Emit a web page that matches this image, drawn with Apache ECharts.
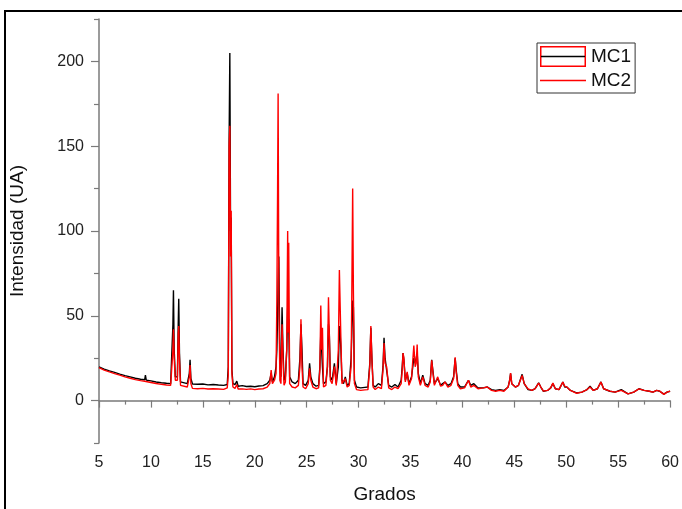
<!DOCTYPE html>
<html>
<head>
<meta charset="utf-8">
<script src="https://cdn.jsdelivr.net/npm/echarts@6/dist/echarts.min.js"></script>
<style>
  html, body { margin: 0; padding: 0; background: #fff; }
  #chart { width: 682px; height: 509px; }
</style>
</head>
<body>
<div id="chart"></div>
<script>
// Diffraction angle (2θ, degrees) shared by both patterns
const grados = [
  5.0, 5.5, 6.0, 6.5, 7.0, 7.5, 8.0, 8.5, 9.0, 9.4, 9.47, 9.55, 10.0, 10.5, 11.0, 11.5, 11.9,
  12.05, 12.12, 12.17, 12.24, 12.35, 12.45, 12.55, 12.63, 12.68, 12.75, 12.85,
  13.0, 13.5, 13.7, 13.77, 13.85, 14.0,
  14.5, 15.0, 15.5, 16.0, 16.5, 17.0, 17.35,
  17.45, 17.53, 17.6, 17.67, 17.73, 17.8, 17.9,
  18.1, 18.27, 18.4, 18.8, 19.2, 19.6, 20.0, 20.4, 20.8, 21.2,
  21.45, 21.58, 21.7, 21.9, 22.05,
  22.13, 22.2, 22.25, 22.32, 22.42,
  22.52, 22.63, 22.72, 22.82,
  22.95, 23.08, 23.17, 23.22, 23.27, 23.36,
  23.6, 23.9, 24.2,
  24.35, 24.45, 24.55, 24.65, 24.9,
  25.15, 25.28, 25.4, 25.6, 25.9, 26.15,
  26.27, 26.36, 26.44, 26.52, 26.62, 26.85,
  27.0, 27.1, 27.18, 27.28, 27.45, 27.67, 27.85,
  28.05, 28.15, 28.22, 28.3, 28.4, 28.55, 28.72, 28.9, 29.1, 29.28,
  29.35, 29.43, 29.5, 29.6,
  29.8, 30.2, 30.6, 30.9,
  31.08, 31.18, 31.28, 31.4, 31.6, 31.9, 32.2,
  32.35, 32.45, 32.55, 32.7, 32.9, 33.2, 33.5, 33.8, 34.1,
  34.2, 34.28, 34.36, 34.5, 34.68, 34.85,
  35.1, 35.32, 35.45, 35.55, 35.64, 35.75, 35.95,
  36.18, 36.4, 36.7,
  36.9, 37.04, 37.15, 37.3, 37.62, 37.9, 38.1, 38.32, 38.6, 38.9,
  39.15, 39.3, 39.4, 39.55,
  39.8, 40.2, 40.58, 40.8, 41.1, 41.5, 42.0, 42.4, 42.8, 43.2, 43.6, 44.0, 44.4,
  44.55, 44.64, 44.75,
  45.1, 45.4, 45.75, 45.95, 46.32, 46.7, 47.0, 47.34, 47.55, 47.8, 48.2, 48.5, 48.71, 48.95,
  49.3, 49.67, 49.85, 50.05, 50.4, 51.0, 51.5, 52.0, 52.29, 52.6, 53.0, 53.34, 53.6,
  54.2, 54.7, 55.3, 55.95, 56.5, 57.0, 57.5, 58.0, 58.35, 58.7, 59.0, 59.4, 59.7, 60.0
];

// Intensity (UA), sample MC1
const mc1 = [
  19.8, 18.6, 17.5, 16.6, 15.6, 14.7, 14.0, 13.2, 12.6, 12.3, 15.0, 12.1, 11.6, 11.0, 10.5, 10.2, 10.0,
  11, 45, 65, 30, 14, 13, 14, 45, 60, 28, 11,
  10, 10, 16, 24, 13, 9.8,
  9.6, 9.8, 9.3, 9.5, 9.2, 9.0, 9.5,
  20, 152, 205, 100, 108, 18, 10,
  9.5, 11.5, 8.5, 8.8, 8.3, 8.5, 8.2, 8.6, 8.8, 10,
  12, 16, 11, 14, 20,
  30, 50, 70, 85, 20,
  14, 55, 30, 12,
  14, 30, 55, 40, 48, 14,
  11, 10, 12,
  25, 45, 30, 10, 9,
  12, 22, 14, 10, 8.5, 9,
  20, 40, 30, 20, 10, 11,
  20, 45, 40, 14, 12, 22, 10,
  20, 44, 40, 30, 12, 10, 14, 9, 10, 25,
  40, 59, 55, 12,
  8, 7.5, 7.8, 8,
  22, 43, 25, 9, 8, 10, 9,
  20, 37, 25, 18, 9, 8, 9.5, 8, 12,
  20, 28, 24, 12, 16, 10,
  14, 25, 22, 25, 28, 16, 10,
  15, 10, 9,
  12, 24, 18, 10, 13, 9, 10, 11, 9, 10,
  14, 25, 18, 10,
  8, 8, 12, 9, 10, 7.5, 7.5, 8, 6.5, 6, 6.5, 6, 8,
  12, 16, 10,
  8, 9, 15.5, 10, 6.5, 6, 7, 10.5, 8, 5.5, 6, 7.5, 10, 7,
  6.5, 11, 8, 8, 6, 4.5, 5, 6.5, 8.5, 6, 7, 11, 7,
  5.5, 5, 6.5, 4, 5, 7, 6, 5.5, 5, 6, 5.5, 3.8, 5, 5.5
];

// Intensity (UA), sample MC2
const mc2 = [
  19.5, 18.0, 16.9, 15.9, 15.0, 14.0, 13.2, 12.4, 11.8, 11.4, 11.6, 11.2, 10.7, 10.1, 9.6, 9.2, 9.0,
  10, 30, 42, 25, 12, 11, 12, 40, 44, 24, 9,
  8, 8, 14, 21, 10, 7.2,
  7.0, 7.2, 6.8, 7.0, 6.8, 6.6, 7.5,
  15, 150, 162, 85, 112, 16, 8,
  7.2, 9.5, 6.8, 6.9, 6.6, 6.9, 6.5, 6.8, 7.0, 8,
  10, 18, 10, 12, 16,
  60, 125, 181, 60, 12,
  10, 45, 25, 9,
  11, 30, 100, 40, 93, 10,
  8, 7.5, 9,
  20, 48, 20, 8, 7,
  10, 19, 12, 8, 7, 7.5,
  18, 56, 30, 43, 8, 9,
  20, 61, 62, 12, 10, 20, 9,
  30, 77, 78, 35, 10, 9, 13, 8, 9, 20,
  64, 125, 64, 10,
  6.5, 6, 6.3, 6.5,
  20, 44, 25, 8, 6.5, 8, 7,
  18, 34, 22, 20, 7.5, 6.5, 8, 7, 10,
  18, 28, 25, 11, 17, 9,
  13, 32.5, 20, 22, 33, 14, 9,
  14, 9, 8,
  11, 23.7, 17, 9, 14, 8.5, 9, 11, 8, 9,
  13, 25.5, 17, 9,
  7, 7.5, 12, 8, 9, 7, 7.5, 8, 6, 5.5, 6, 5.5, 8,
  12, 16.2, 10,
  8, 9, 14.8, 10, 6.9, 6, 7, 10.3, 8, 5.6, 6, 7.5, 10.3, 7,
  6.5, 10.9, 8.5, 8, 6, 4.3, 5, 6.5, 8, 6, 7, 10.9, 7,
  5.6, 5, 6, 4, 5, 6.9, 6, 5.5, 5, 6, 5.6, 3.7, 5, 5.6
];

// Axis ticks
const xTicks = [5, 10, 15, 20, 25, 30, 35, 40, 45, 50, 55, 60];
const yMajor = [0, 50, 100, 150, 200];
const yMinor = [-25, 25, 75, 125, 175, 225];

const seriesNames = ['MC1', 'MC2'];
const seriesColors = ['#000000', '#ff0000'];

const pairs = vals => grados.map((g, i) => [g, vals[i]]);

// Legend glyphs: outlined swatch for MC1, plain line for MC2
const svgIcon = body =>
  'image://data:image/svg+xml;charset=utf-8,' + encodeURIComponent(
    '<svg xmlns="http://www.w3.org/2000/svg" width="46" height="21" viewBox="0 0 46 21">' + body + '</svg>');
const iconMC1 = svgIcon(
  '<rect x="0.75" y="0.75" width="44.5" height="19.5" fill="none" stroke="#ff0000" stroke-width="1.5"/>' +
  '<line x1="1" y1="10.5" x2="45" y2="10.5" stroke="#000" stroke-width="1.3"/>');
const iconMC2 = svgIcon('<line x1="0" y1="10.5" x2="46" y2="10.5" stroke="#ff0000" stroke-width="1.3"/>');

const font = 'Liberation Sans, Arial, sans-serif';
const axisGray = '#7a7a7a';

const chart = echarts.init(document.getElementById('chart'), null, { renderer: 'canvas' });

chart.setOption({
  animation: false,
  backgroundColor: '#ffffff',
  grid: { left: 99, right: 8, top: 19, bottom: 66, containLabel: false },
  graphic: [{
    type: 'rect',
    shape: { x: 5, y: 11, width: 700, height: 520 },
    style: { fill: 'none', stroke: '#000', lineWidth: 2 },
    silent: true,
    z: 100
  }],
  legend: {
    orient: 'vertical',
    left: 537,
    top: 43,
    padding: [3, 4, 2, 3],
    itemGap: 3,
    itemWidth: 46,
    itemHeight: 21,
    borderColor: '#333',
    borderWidth: 1,
    backgroundColor: '#fff',
    textStyle: { fontFamily: font, fontSize: 19, color: '#111', padding: [0, 0, 0, 0] },
    data: [
      { name: seriesNames[0], icon: iconMC1 },
      { name: seriesNames[1], icon: iconMC2 }
    ]
  },
  xAxis: {
    type: 'value',
    min: 5,
    max: 60,
    interval: 5,
    name: 'Grados',
    nameLocation: 'middle',
    nameGap: 42,
    nameTextStyle: { fontFamily: font, fontSize: 19, color: '#111' },
    axisLine: { lineStyle: { color: axisGray, width: 1.5 } },
    axisTick: { show: true, length: 7, lineStyle: { color: axisGray, width: 1.2 } },
    minorTick: { show: true, splitNumber: 2, length: 4, lineStyle: { color: axisGray, width: 1.2 } },
    axisLabel: {
      fontFamily: font, fontSize: 16, color: '#222', margin: 12,
      customValues: xTicks
    },
    splitLine: { show: false }
  },
  yAxis: [{
    type: 'value',
    min: -25,
    max: 225,
    interval: 25,
    name: 'Intensidad (UA)',
    nameLocation: 'middle',
    nameGap: 72,
    nameTextStyle: { fontFamily: font, fontSize: 19, color: '#111' },
    axisLine: { show: true, lineStyle: { color: axisGray, width: 1.5 } },
    axisTick: { show: true, length: 8, customValues: yMajor, lineStyle: { color: axisGray, width: 1.2 } },
    axisLabel: { fontFamily: font, fontSize: 16, color: '#222', margin: 15, customValues: yMajor },
    splitLine: { show: false }
  }, {
    type: 'value',
    min: -25,
    max: 225,
    interval: 25,
    position: 'left',
    axisLine: { show: false },
    axisTick: { show: true, length: 5, customValues: yMinor, lineStyle: { color: axisGray, width: 1.2 } },
    axisLabel: { show: false },
    splitLine: { show: false }
  }],
  series: [
    {
      name: seriesNames[0],
      type: 'line',
      data: pairs(mc1),
      showSymbol: false,
      symbol: 'none',
      lineStyle: { color: seriesColors[0], width: 1.4 },
      itemStyle: { color: seriesColors[0] },
      z: 2
    },
    {
      name: seriesNames[1],
      type: 'line',
      data: pairs(mc2),
      showSymbol: false,
      symbol: 'none',
      lineStyle: { color: seriesColors[1], width: 1.4 },
      itemStyle: { color: seriesColors[1] },
      z: 3
    }
  ]
});
</script>
</body>
</html>
